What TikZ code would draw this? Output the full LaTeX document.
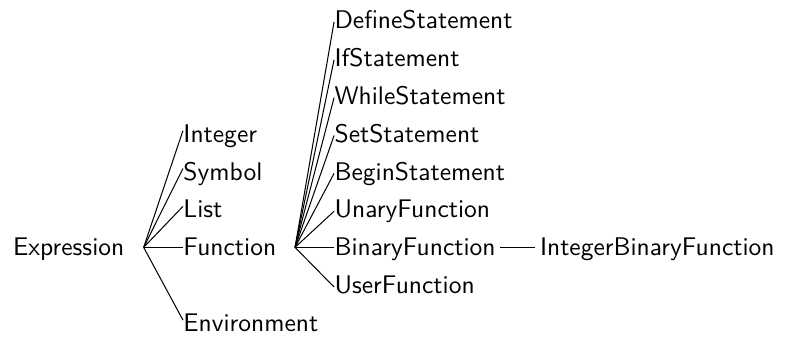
\documentclass[tikz,border=0pt]{standalone}
\usetikzlibrary{positioning}

\begin{document}
\begin{tikzpicture}[
leaf/.style={
  inner sep=0pt,
  font=\sffamily,
  anchor=base west
},
node distance=14.85pt
]
\node[leaf] at (0,0)
  (expr) {Expression};
\useasboundingbox ([xshift=-4.98pt,yshift=-32.2pt]expr.base west) rectangle ([xshift=304pt,yshift=100.3pt]expr.base west);

% first level
\node[right=22.8pt of expr.base east,leaf] 
  (fun) {Function};
\node[above=of fun.base west,leaf] 
  (lst) {List};
\node[above=of lst.base west,leaf] 
  (sym) {Symbol};
\node[above=of sym.base west,leaf] 
  (int) {Integer};
\node[below=29.7pt of fun.base west,leaf] 
  (env) {Environment};

% second level
\node[right=22.5pt of fun.base east,leaf] 
  (binf) {BinaryFunction};
\node[above=of binf.base west,leaf] 
  (una) {UnaryFunction};
\node[above=of una.base west,leaf] 
  (beg) {BeginStatement};
\node[above=of beg.base west,leaf] 
  (set) {SetStatement};
\node[above=of set.base west,leaf] 
  (whl) {WhileStatement};
\node[above=of whl.base west,leaf] 
  (ifs) {IfStatement};
\node[above=of ifs.base west,leaf] 
  (def) {DefineStatement};
\node[below=of binf.base west,leaf] 
  (usr) {UserFunction};
\node[right=17pt of binf.base east,leaf] 
  (ibf) {IntegerBinaryFunction};

\coordinate (efork) at ([xshift=7.4pt,yshift=3.3pt]expr.base east);
\coordinate (ffork) at ([xshift=7.2pt,yshift=3.3pt]fun.base east);

\foreach \n in {int,sym,lst,env}
  \draw (efork) -- ([yshift=4.5pt]\n.base west);
\draw (efork) -- ([yshift=3.3pt]fun.base west);
\foreach \n in {def,ifs,whl,set,beg,una,usr}
  \draw (ffork) -- ([yshift=2.6pt]\n.base west);
\draw (ffork) -- ([yshift=3.3pt]binf.base west);
\draw ([xshift=1.6pt,yshift=3.3pt]binf.base east) -- ([xshift=-1.6pt,yshift=3.3pt]ibf.base west);
\end{tikzpicture}
\end{document}
